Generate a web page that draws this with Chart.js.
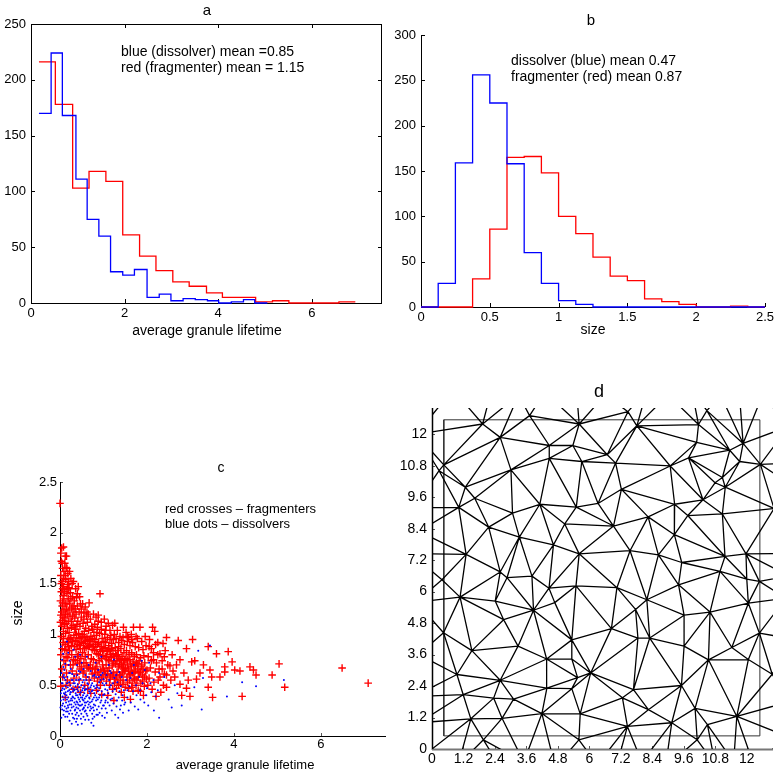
<!DOCTYPE html>
<html><head><meta charset="utf-8">
<script src="https://cdn.jsdelivr.net/npm/chart.js@4.4.1/dist/chart.umd.min.js"></script>
<style>
html,body{margin:0;padding:0;background:#fff;width:777px;height:774px;overflow:hidden}
canvas{position:absolute;left:0;top:0}
</style></head><body>
<canvas id="ca" width="777" height="774"></canvas>
<canvas id="cb" width="777" height="774"></canvas>
<canvas id="cc" width="777" height="774"></canvas>
<canvas id="cd" width="777" height="774"></canvas>
<script>
// ---------------- DATA ----------------
// panel a: histogram of average granule lifetime
const lifeTicks = [0, 2, 4, 6];
const countTicksA = [0, 50, 100, 150, 200, 250];
const dissLifeEdges = [0.17,0.43,0.67,0.96,1.20,1.45,1.70,1.96,2.21,2.48,2.74,2.99,3.25,3.51,3.77,4.01,4.28,4.54,4.78,5.05];
const dissLifeCounts = [170,224,168,111,75,60,28,25,30,5,8,2,4,3,2,0,1,3,0];
const fragLifeEdges = [0.17,0.52,0.89,1.24,1.60,1.96,2.32,2.67,3.03,3.38,3.75,4.09,4.45,4.80,5.16,5.51,5.87,6.22,6.58,6.93];
const fragLifeCounts = [216,178,103,118,109,61,42,29,19,15,9,5,5,1,2,0,0,0,1];

// panel b: histogram of size
const sizeTicks = [0, 0.5, 1, 1.5, 2, 2.5];
const countTicksB = [0, 50, 100, 150, 200, 250, 300];
const sizeEdges = [0,0.125,0.25,0.375,0.5,0.625,0.75,0.875,1,1.125,1.25,1.375,1.5,1.625,1.75,1.875,2,2.125,2.25,2.375,2.5];
const dissSizeCounts = [0,26,159,256,225,158,60,26,7,3,0,0,0,0,0,0,0,0,0,0];
const fragSizeCounts = [0,0,0,31,86,165,166,148,100,81,55,34,29,9,6,3,0,0,1,0];

// panel c: lifetime vs size scatter
const scatterLifeTicks = [0, 2, 4, 6];
const scatterSizeTicks = [0, 0.5, 1, 1.5, 2, 2.5];
const fragPoints = [
[0.00,2.29],[0.02,1.80],[0.04,1.85],[0.08,1.86],[0.03,1.72],[0.06,1.65],[0.02,1.58],[0.05,1.52],[0.08,1.47],[0.03,1.42],[0.07,1.38],[0.01,1.33],[0.05,1.28],[0.09,1.24],[0.02,1.19],[0.06,1.14],[0.04,1.08],[0.08,1.03],[0.03,0.98],[0.07,0.92],[0.05,0.86],[0.02,0.80],[0.09,0.74],[0.04,0.66],[0.06,0.58],[0.02,0.49],[0.08,1.55],[0.09,1.62],[0.01,1.12],[0.06,1.31],
[0.12,1.77],[0.15,1.77],[0.11,1.70],[0.14,1.66],[0.18,1.60],[0.13,1.54],[0.17,1.49],[0.11,1.44],[0.16,1.40],[0.19,1.35],[0.12,1.30],[0.15,1.25],[0.18,1.20],[0.11,1.16],[0.14,1.11],[0.17,1.06],[0.13,1.01],[0.19,0.96],[0.12,0.90],[0.16,0.84],[0.18,0.77],[0.13,0.70],[0.15,0.62],[0.12,0.38],[0.17,0.55],[0.19,1.45],[0.14,0.50],
[0.22,1.62],[0.25,1.55],[0.28,1.50],[0.31,1.52],[0.21,1.46],[0.24,1.41],[0.29,1.37],[0.33,1.33],[0.22,1.30],[0.27,1.26],[0.32,1.22],[0.23,1.18],[0.26,1.13],[0.30,1.09],[0.34,1.05],[0.21,1.02],[0.25,0.97],[0.29,0.93],[0.33,0.88],[0.22,0.84],[0.27,0.80],[0.31,0.75],[0.24,0.70],[0.28,0.64],[0.32,0.57],[0.23,0.52],[0.30,0.46],[0.26,1.07],[0.34,1.16],[0.21,1.24],
[0.36,1.45],[0.42,1.47],[0.45,1.37],[0.38,1.36],[0.47,1.30],[0.40,1.28],[0.44,1.22],[0.37,1.20],[0.49,1.17],[0.41,1.13],[0.46,1.08],[0.36,1.05],[0.43,1.01],[0.48,0.97],[0.39,0.93],[0.45,0.89],[0.37,0.85],[0.42,0.80],[0.48,0.76],[0.40,0.71],[0.46,0.66],[0.38,0.61],[0.44,0.55],[0.41,0.48],[0.47,0.43],[0.49,1.25],[0.39,1.10],
[0.52,1.30],[0.58,1.27],[0.63,1.12],[0.67,1.31],[0.55,1.21],[0.61,1.18],[0.70,1.15],[0.53,1.11],[0.59,1.06],[0.66,1.04],[0.73,1.08],[0.51,1.00],[0.57,0.97],[0.64,0.94],[0.71,0.98],[0.54,0.91],[0.60,0.87],[0.68,0.89],[0.74,0.85],[0.52,0.82],[0.58,0.78],[0.65,0.80],[0.72,0.76],[0.55,0.72],[0.62,0.69],[0.69,0.66],[0.53,0.62],[0.60,0.58],[0.67,0.55],[0.74,0.61],[0.57,0.50],[0.64,0.46],[0.71,0.42],[0.62,1.22],[0.56,0.86],
[0.77,1.20],[0.83,1.17],[0.92,1.40],[0.88,1.19],[0.80,1.10],[0.86,1.07],[0.95,1.12],[0.78,1.02],[0.84,0.99],[0.91,1.01],[0.97,0.96],[0.76,0.93],[0.82,0.90],[0.89,0.92],[0.96,0.88],[0.79,0.84],[0.85,0.81],[0.93,0.83],[0.99,0.79],[0.77,0.75],[0.83,0.72],[0.90,0.74],[0.98,0.70],[0.81,0.66],[0.87,0.63],[0.94,0.65],[0.79,0.57],[0.86,0.54],[0.93,0.50],[0.99,0.58],[0.84,0.45],[0.96,0.41],[0.88,1.13],
[1.02,1.15],[1.11,1.11],[1.06,1.08],[1.15,1.04],[1.21,1.09],[1.03,1.00],[1.09,0.97],[1.17,0.99],[1.23,0.95],[1.05,0.92],[1.12,0.89],[1.19,0.91],[1.01,0.86],[1.08,0.83],[1.15,0.85],[1.22,0.81],[1.04,0.78],[1.11,0.75],[1.18,0.77],[1.24,0.73],[1.06,0.70],[1.13,0.67],[1.20,0.69],[1.02,0.64],[1.09,0.61],[1.16,0.58],[1.23,0.62],[1.07,0.54],[1.14,0.50],[1.21,0.46],[1.10,0.40],[1.24,0.35],
[1.26,1.11],[1.32,1.04],[1.38,0.98],[1.46,1.07],[1.29,0.96],[1.35,0.92],[1.42,0.94],[1.48,0.90],[1.27,0.87],[1.33,0.84],[1.40,0.86],[1.47,0.82],[1.30,0.79],[1.36,0.76],[1.43,0.78],[1.49,0.74],[1.28,0.71],[1.34,0.68],[1.41,0.70],[1.46,0.66],[1.31,0.63],[1.37,0.60],[1.44,0.62],[1.27,0.56],[1.33,0.53],[1.39,0.55],[1.45,0.51],[1.30,0.47],[1.41,0.43],[1.48,0.38],
[1.52,1.02],[1.58,0.97],[1.64,1.00],[1.69,1.07],[1.55,0.93],[1.61,0.89],[1.67,0.92],[1.73,0.88],[1.53,0.84],[1.59,0.80],[1.65,0.82],[1.71,0.78],[1.56,0.75],[1.62,0.71],[1.68,0.73],[1.74,0.69],[1.51,0.67],[1.57,0.64],[1.63,0.61],[1.70,0.63],[1.54,0.58],[1.60,0.55],[1.66,0.52],[1.72,0.56],[1.58,0.47],[1.68,0.44],[1.62,0.36],
[1.84,1.07],[1.78,0.96],[1.88,0.93],[1.96,0.98],[1.81,0.87],[1.91,0.85],[1.98,0.89],[1.76,0.80],[1.85,0.77],[1.93,0.79],[1.79,0.71],[1.87,0.68],[1.95,0.72],[1.82,0.62],[1.90,0.60],[1.97,0.64],[1.77,0.55],[1.86,0.52],[1.94,0.49],[1.80,0.45],[1.92,0.40],[1.99,0.56],
[2.13,1.07],[2.18,1.03],[2.06,0.95],[2.25,0.92],[2.37,0.91],[2.45,0.97],[2.10,0.86],[2.30,0.81],[2.42,0.84],[2.03,0.78],[2.15,0.75],[2.22,0.72],[2.35,0.74],[2.48,0.70],[2.08,0.67],[2.19,0.63],[2.28,0.66],[2.40,0.61],[2.05,0.57],[2.16,0.53],[2.26,0.55],[2.38,0.50],[2.45,0.48],[2.12,0.46],[2.32,0.43],[2.21,0.39],[2.02,0.50],
[2.53,0.69],[2.60,0.64],[2.64,0.58],[2.72,0.94],[2.76,0.75],[2.76,0.51],[2.80,0.40],[2.91,0.86],[2.91,0.47],[2.99,0.39],[3.03,0.73],[3.05,0.95],[3.10,0.74],[3.14,0.56],[3.22,0.62],[3.41,0.88],[3.41,0.48],[3.45,0.65],[3.49,0.58],[3.51,0.38],[3.60,0.81],[3.68,0.58],[3.79,0.68],[3.79,0.63],[3.87,0.83],[3.96,0.73],[4.02,0.65],[4.14,0.64],[4.19,0.39],[4.37,0.68],[4.45,0.65],[4.51,0.60],[4.88,0.60],[5.04,0.71],[5.17,0.48],[6.49,0.67],[7.09,0.52],[2.58,0.80],[2.68,0.70],[2.85,0.62],[2.95,0.55],[3.30,0.70],[2.55,0.55],
[0.03,1.50],[0.06,1.45],[0.09,1.35],[0.04,1.22],[0.07,1.17],[0.10,1.10],[0.13,1.20],[0.16,1.30],[0.19,1.13],[0.12,1.58],[0.16,1.65],[0.08,0.96],[0.11,0.85],[0.14,0.78],[0.17,0.92],[0.20,0.88],[0.23,0.95],[0.26,0.89],[0.29,1.18],[0.32,0.99],[0.35,0.94],[0.38,1.00],[0.41,0.90],[0.44,0.96],[0.47,0.86],[0.50,0.92],[0.53,0.98],[0.56,1.03],[0.59,0.93],[0.62,0.98],[0.65,0.88],[0.68,0.95],[0.71,0.90],[0.74,0.96],[0.77,0.88],[0.80,0.95],[0.83,0.85],[0.86,0.90],[0.89,0.80],[0.92,0.88],[0.95,0.76],[0.98,0.84],[1.01,0.93],[1.04,0.87],[1.07,0.78],[1.10,0.84],[1.13,0.74],[1.16,0.80],[1.19,0.86],[1.22,0.71],[1.25,0.78],[1.28,0.84],[1.31,0.74],[1.34,0.80],[1.37,0.70],[1.40,0.75],[1.43,0.68],[1.46,0.72],[1.49,0.64],[1.52,0.76],[1.55,0.70],[1.58,0.66],[1.61,0.75],[1.64,0.68],[1.67,0.62],[1.70,0.70],[1.73,0.64],[1.76,0.72],[1.79,0.66],[1.82,0.74],[1.85,0.63],[1.88,0.70],[1.91,0.66],[1.94,0.58],
[0.30,0.70],[0.35,0.74],[0.40,0.78],[0.45,0.72],[0.50,0.68],[0.55,0.64],[0.60,0.72],[0.65,0.67],[0.70,0.70],[0.75,0.67],[0.80,0.62],[0.85,0.68],[0.90,0.60],[0.95,0.56],[1.00,0.66],[1.05,0.60],[1.10,0.64],[1.15,0.56],[1.20,0.60],[1.25,0.52],[1.30,0.58],[1.35,0.50],[1.40,0.60],[1.45,0.55],[1.50,0.48],[1.55,0.53],[1.60,0.60],[1.65,0.48],[1.70,0.57],[1.75,0.50],[1.80,0.58],[1.85,0.44],[1.90,0.54],
[0.25,1.35],[0.30,1.28],[0.35,1.25],[0.40,1.40],[0.20,1.52],[0.10,1.42],[0.05,1.70],[0.55,1.15],[0.65,1.20],[0.75,1.05],[0.85,1.02],[0.95,1.05],[1.05,1.04],[1.15,0.95],[1.25,1.00],[1.35,0.88],[1.45,0.97],[1.55,0.98],[1.65,0.95],[1.75,0.98],[2.05,0.88],[2.15,0.82],[2.25,0.80],[2.35,0.66],[2.45,0.60],[2.20,0.90],[2.30,0.58],[2.40,0.78],[2.10,0.74],[2.00,0.65]
];
const dissPoints = [
[0.02,0.88],[0.05,0.75],[0.08,0.68],[0.03,0.62],[0.10,0.57],[0.06,0.52],[0.13,0.49],[0.04,0.45],[0.09,0.42],[0.12,0.38],[0.02,0.35],[0.07,0.32],[0.11,0.29],[0.05,0.26],[0.14,0.24],[0.08,0.21],[0.03,0.18],[0.13,0.55],[0.10,0.46],[0.06,0.39],[0.14,0.33],[0.01,0.28],[0.09,0.60],[0.12,0.71],[0.07,0.81],
[0.16,0.93],[0.19,0.82],[0.22,0.74],[0.25,0.66],[0.28,0.61],[0.17,0.58],[0.21,0.53],[0.24,0.50],[0.27,0.47],[0.18,0.44],[0.23,0.41],[0.29,0.39],[0.16,0.36],[0.20,0.34],[0.26,0.31],[0.19,0.28],[0.24,0.25],[0.28,0.22],[0.17,0.19],[0.22,0.15],[0.27,0.12],[0.21,0.45],[0.26,0.37],[0.18,0.30],[0.29,0.55],[0.23,0.62],[0.20,0.70],
[0.31,0.85],[0.35,0.78],[0.39,0.70],[0.43,0.64],[0.33,0.59],[0.37,0.55],[0.41,0.51],[0.44,0.48],[0.32,0.46],[0.36,0.42],[0.40,0.40],[0.34,0.37],[0.38,0.34],[0.42,0.31],[0.31,0.29],[0.35,0.26],[0.39,0.23],[0.43,0.20],[0.33,0.17],[0.37,0.14],[0.41,0.11],[0.36,0.49],[0.42,0.44],[0.30,0.38],[0.44,0.36],[0.38,0.28],[0.34,0.52],[0.40,0.60],
[0.46,0.80],[0.50,0.72],[0.54,0.66],[0.58,0.60],[0.47,0.56],[0.52,0.53],[0.56,0.49],[0.59,0.46],[0.48,0.43],[0.53,0.40],[0.57,0.37],[0.46,0.34],[0.51,0.31],[0.55,0.28],[0.59,0.25],[0.49,0.22],[0.54,0.19],[0.58,0.16],[0.50,0.12],[0.56,0.42],[0.48,0.38],[0.53,0.47],[0.57,0.33],[0.52,0.26],[0.47,0.63],
[0.62,0.78],[0.66,0.70],[0.71,0.64],[0.76,0.59],[0.61,0.55],[0.65,0.51],[0.70,0.48],[0.75,0.45],[0.79,0.42],[0.63,0.40],[0.68,0.37],[0.73,0.34],[0.78,0.31],[0.64,0.28],[0.69,0.25],[0.74,0.22],[0.79,0.19],[0.66,0.16],[0.72,0.13],[0.77,0.10],[0.61,0.46],[0.67,0.44],[0.74,0.52],[0.70,0.29],[0.64,0.34],[0.78,0.38],
[0.82,0.72],[0.88,0.65],[0.94,0.60],[1.00,0.56],[1.06,0.52],[0.84,0.50],[0.90,0.47],[0.96,0.44],[1.02,0.41],[1.08,0.38],[0.81,0.40],[0.87,0.36],[0.93,0.33],[0.99,0.30],[1.05,0.27],[0.85,0.26],[0.91,0.23],[0.97,0.20],[1.03,0.18],[0.83,0.58],[0.98,0.52],[1.09,0.45],[0.89,0.29],[1.04,0.33],[0.95,0.78],
[1.12,0.70],[1.18,0.62],[1.25,0.57],[1.32,0.53],[1.40,0.49],[1.47,0.45],[1.14,0.48],[1.21,0.44],[1.28,0.41],[1.35,0.38],[1.43,0.35],[1.16,0.36],[1.23,0.32],[1.30,0.29],[1.38,0.26],[1.45,0.23],[1.19,0.25],[1.27,0.21],[1.34,0.18],[1.13,0.55],[1.36,0.63],[1.42,0.58],[1.24,0.75],[1.48,0.31],
[1.52,0.55],[1.60,0.49],[1.68,0.44],[1.76,0.40],[1.85,0.36],[1.94,0.33],[2.03,0.30],[1.55,0.38],[1.63,0.33],[1.72,0.29],[1.80,0.26],[1.58,0.25],[1.66,0.62],[1.82,0.58],[1.90,0.52],[2.00,0.47],[2.10,0.43],[2.20,0.39],[1.70,0.70],[1.95,0.65],[2.15,0.55],[2.28,0.62],[2.05,0.72],[2.25,0.45],[1.88,0.74],
[2.16,0.25],[2.28,0.18],[2.57,0.28],[2.64,0.50],[2.80,0.30],[3.09,0.48],[3.18,0.84],[3.26,0.26],[3.29,0.57],[3.45,0.89],[3.84,0.39],[4.19,0.53],[4.51,0.49],[5.15,0.55],[2.40,0.58],[2.50,0.36],[2.70,0.42],
[0.05,0.30],[0.08,0.36],[0.11,0.41],[0.15,0.27],[0.18,0.48],[0.21,0.22],[0.24,0.35],[0.27,0.28],[0.30,0.44],[0.33,0.33],[0.36,0.21],[0.39,0.46],[0.42,0.27],[0.45,0.41],[0.48,0.30],[0.51,0.45],[0.54,0.35],[0.57,0.24],[0.60,0.39],[0.63,0.52],[0.66,0.31],[0.69,0.42],[0.72,0.27],[0.75,0.36],[0.78,0.49],[0.81,0.30],[0.84,0.21],[0.87,0.44],[0.90,0.38],[0.93,0.55],[0.96,0.27],[0.99,0.40],[1.02,0.50],[1.05,0.35],[1.08,0.23],[1.11,0.42],[1.14,0.30],[1.17,0.50],[1.20,0.37],[1.26,0.46],[1.31,0.35],[1.37,0.44],[1.44,0.40],[1.50,0.33],
[0.04,0.52],[0.07,0.58],[0.10,0.65],[0.13,0.43],[0.16,0.52],[0.19,0.38],[0.22,0.31],[0.25,0.43],[0.28,0.35],[0.31,0.52],[0.34,0.25],[0.37,0.40],[0.40,0.33],[0.43,0.55],[0.46,0.25],[0.49,0.50],[0.52,0.36],[0.55,0.55],[0.58,0.30],[0.61,0.22],[0.64,0.58],[0.67,0.38],[0.70,0.55],[0.73,0.44],[0.76,0.28],[0.79,0.60],[0.83,0.35],[0.86,0.48],[0.89,0.58],[0.92,0.40],[0.95,0.35],[0.98,0.62],[1.01,0.30],[1.04,0.46],[1.07,0.60],[1.10,0.33],
[0.02,0.42],[0.06,0.47],[0.09,0.25],[0.12,0.19],[0.15,0.40],[0.18,0.24],[0.21,0.62],[0.24,0.43],[0.27,0.55],[0.30,0.18],[0.33,0.45],[0.36,0.31],[0.39,0.17],[0.42,0.38],[0.45,0.30],[0.48,0.17],[0.51,0.38],[0.54,0.27],[0.57,0.45],[0.60,0.33],[0.63,0.20],[0.66,0.47],[0.69,0.33],[0.72,0.50],[0.75,0.17],[0.78,0.25],[0.81,0.47],[0.84,0.38],[0.87,0.21],[0.90,0.53],[1.15,0.64],[1.22,0.52],[1.29,0.60],[1.40,0.30],[1.55,0.45],[1.62,0.57],[1.75,0.50],[1.84,0.45],[1.98,0.40],[2.08,0.52]
];

// panel d: triangulated granule centres
const meshTicks = [0, 1.2, 2.4, 3.6, 4.8, 6, 7.2, 8.4, 9.6, 10.8, 12];
const meshNodes = [
[1.93,12.39],[2.60,11.88],[3.72,12.71],[4.47,11.57],[5.37,11.57],[5.61,12.39],[5.71,10.96],[4.47,11.08],[3.01,10.64],[0.45,10.83],
[0.27,10.61],[1.27,9.98],[1.02,9.21],[1.63,9.56],[2.16,8.46],[3.07,8.99],[4.11,9.33],[5.06,8.58],[5.50,9.22],[6.33,9.36],
[3.33,8.08],[4.63,7.78],[5.61,7.44],[1.30,7.42],[6.68,11.22],[7.47,12.86],[7.00,10.90],[7.22,9.90],[9.08,10.79],[7.81,12.32],
[10.16,12.37],[10.09,11.69],[9.78,11.10],[11.86,11.65],[11.35,11.39],[11.07,10.35],[11.73,10.96],[12.52,10.85],[10.79,10.15],[11.18,9.98],
[11.07,8.96],[13.04,9.17],[10.33,9.50],[9.25,9.33],[8.24,8.85],[6.92,8.50],[9.24,8.17],[8.63,7.40],[7.55,7.56],[11.17,7.34],
[11.97,7.44],[9.52,7.11],[10.98,6.77],[12.48,6.39],[12.00,6.48],[9.40,6.26],[10.60,5.22],[12.06,5.56],[12.48,4.42],[9.61,5.10],
[8.19,5.69],[7.05,6.15],[6.84,4.59],[7.85,4.23],[8.30,4.23],[7.68,2.26],[7.26,1.95],[9.61,3.92],[9.51,2.42],[10.54,3.40],
[11.43,3.87],[12.06,3.41],[12.97,2.85],[10.50,0.93],[10.03,1.55],[11.62,1.24],[9.14,1.00],[10.11,0.35],[8.25,1.50],[7.45,0.86],
[6.05,2.90],[5.33,2.30],[5.55,2.72],[5.33,4.16],[5.33,3.43],[4.37,3.43],[4.38,2.32],[4.68,5.58],[3.87,5.29],[3.81,6.59],
[4.46,6.13],[5.49,6.22],[2.86,6.53],[2.60,6.75],[2.41,5.64],[2.73,4.93],[1.07,5.79],[0.38,6.45],[0.44,4.43],[1.52,3.75],
[3.28,3.92],[2.60,2.62],[0.95,2.84],[1.19,2.07],[2.35,1.94],[3.11,1.90],[2.67,1.17],[1.48,1.15],[4.19,1.35],[5.65,1.34],
[1.96,0.35],[5.60,0.35],[0.00,0.00],[7.76,5.32],[10.48,12.90],[9.75,8.90],
[0.8,13.7],[2.3,13.8],[3.3,13.5],[4.3,13.6],[5.5,13.8],[6.6,13.5],[8.2,13.7],[9.0,13.5],[9.9,13.7],[11.0,13.5],[11.7,13.8],[12.6,13.5],
[1.0,-0.6],[2.6,-0.7],[3.5,-0.5],[4.7,-0.7],[6.3,-0.6],[7.0,-0.8],[8.0,-0.5],[8.9,-0.7],[10.8,-0.6],[11.5,-0.5],[12.3,-0.7],
[-0.6,12.0],[-0.7,9.2],[-0.5,8.3],[-0.8,7.45],[-0.6,5.6],[-0.5,3.6],[-0.7,2.0],[-0.5,1.0],
[13.6,12.3],[13.7,10.9],[13.5,10.2],[13.9,7.45],[13.6,6.6],[13.5,5.75],[13.7,4.2],[13.6,1.8],[13.5,0.5],
[-1.5,-1.5],[14.5,-1.5],[14.5,14.5],[-1.5,14.5]
];
const meshBox = [[0.45,0.5],[12.5,0.5],[12.5,12.55],[0.45,12.55],[0.45,0.5]];

// ---------------- HELPERS ----------------
const FONT = '"Liberation Sans", Arial, Helvetica, sans-serif';
const W = 777, H = 774, AXH = 30;

function stairs(edges, counts) {
  const pts = counts.map((c, i) => ({x: edges[i], y: c}));
  pts.push({x: edges[counts.length], y: counts[counts.length - 1]});
  return pts;
}
function axis(pos, min, max, ticks, size, pad, fit) {
  return {
    type: 'linear', position: pos, min: min, max: max,
    afterBuildTicks: s => { s.ticks = ticks.map(v => ({value: v})); },
    afterFit: s => { if (pos === 'left') s.width = fit; else s.height = fit; },
    grid: {display: false, drawTicks: false},
    border: {display: false},
    ticks: {color: '#000', font: {family: FONT, size: size}, padding: pad, autoSkip: false, maxRotation: 0,
            callback: v => String(v)}
  };
}
function framePlugin(o) {
  return {
    id: 'frame',
    beforeDatasetsDraw(chart) {
      const ctx = chart.ctx, a = chart.chartArea, x = chart.scales.x, y = chart.scales.y;
      ctx.save();
      ctx.strokeStyle = o.tickColor; ctx.lineWidth = 1;
      ctx.beginPath();
      x.ticks.forEach(t => {
        const px = Math.round(x.getPixelForValue(t.value)) + 0.5;
        ctx.moveTo(px, a.bottom); ctx.lineTo(px, a.bottom - o.len);
        if (o.box) { ctx.moveTo(px, a.top); ctx.lineTo(px, a.top + o.len); }
      });
      y.ticks.forEach(t => {
        const py = Math.round(y.getPixelForValue(t.value)) + 0.5;
        ctx.moveTo(a.left, py); ctx.lineTo(a.left + o.len, py);
        if (o.box) { ctx.moveTo(a.right, py); ctx.lineTo(a.right - o.len, py); }
      });
      ctx.stroke();
      ctx.strokeStyle = o.leftColor; ctx.lineWidth = o.leftWidth;
      ctx.beginPath(); ctx.moveTo(a.left + 0.5, a.top); ctx.lineTo(a.left + 0.5, a.bottom + 1); ctx.stroke();
      ctx.strokeStyle = o.bottomColor; ctx.lineWidth = o.bottomWidth;
      ctx.beginPath(); ctx.moveTo(a.left, a.bottom + 0.5); ctx.lineTo(a.right, a.bottom + 0.5); ctx.stroke();
      if (o.box) {
        ctx.strokeStyle = o.leftColor; ctx.lineWidth = 1;
        ctx.beginPath(); ctx.moveTo(a.left, a.top + 0.5); ctx.lineTo(a.right - 0.5, a.top + 0.5);
        ctx.lineTo(a.right - 0.5, a.bottom + 1); ctx.stroke();
      }
      ctx.restore();
    }
  };
}
function textPlugin(items) {
  return {
    id: 'texts',
    afterDraw(chart) {
      const ctx = chart.ctx;
      items.forEach(it => {
        ctx.save();
        ctx.font = it.size + 'px ' + FONT;
        ctx.fillStyle = '#000';
        ctx.textAlign = it.align || 'left';
        ctx.textBaseline = 'middle';
        ctx.translate(it.x, it.y);
        if (it.rot) ctx.rotate(it.rot);
        ctx.fillText(it.text, 0, 0);
        ctx.restore();
      });
    }
  };
}
function makeChart(id, area, datasets, xAx, yAx, frame, texts) {
  return new Chart(document.getElementById(id), {
    type: 'scatter',
    data: {datasets: datasets},
    options: {
      responsive: false, animation: false, devicePixelRatio: 1, events: [],
      layout: {padding: {left: area.L - area.axw, top: area.T, right: W - area.R, bottom: H - area.B - AXH}},
      scales: {x: xAx, y: yAx},
      plugins: {legend: {display: false}, tooltip: {enabled: false}}
    },
    plugins: [framePlugin(frame), textPlugin(texts)]
  });
}
const lineDs = (pts, color) => ({data: pts, showLine: true, stepped: 'before', borderColor: color, borderWidth: 1.3,
  pointRadius: 0, fill: false, clip: false});

// ---------------- PANEL a ----------------
makeChart('ca', {L: 31, R: 382, T: 24, B: 303, axw: 30},
  [lineDs(stairs(dissLifeEdges, dissLifeCounts), '#0000ff'), lineDs(stairs(fragLifeEdges, fragLifeCounts), '#ff0000')],
  axis('bottom', 0, 7.5, lifeTicks, 13, 3, AXH), axis('left', 0, 250, countTicksA, 13, 5, 30),
  {box: true, len: 4, tickColor: '#000', leftColor: '#000', leftWidth: 1, bottomColor: '#000', bottomWidth: 1},
  [{text: 'a', x: 207, y: 11, size: 15, align: 'center'},
   {text: 'blue (dissolver) mean =0.85', x: 121, y: 52, size: 14},
   {text: 'red (fragmenter) mean = 1.15', x: 121, y: 68, size: 14},
   {text: 'average granule lifetime', x: 207, y: 331, size: 14, align: 'center'}]);

// ---------------- PANEL b ----------------
makeChart('cb', {L: 421, R: 766, T: 35, B: 307, axw: 40},
  [lineDs(stairs(sizeEdges, dissSizeCounts), '#0000ff'), lineDs(stairs(sizeEdges, fragSizeCounts), '#ff0000')],
  axis('bottom', 0, 2.5, sizeTicks, 13, 3, AXH), axis('left', 0, 300, countTicksB, 13, 5, 40),
  {box: false, len: 4, tickColor: '#000', leftColor: '#000', leftWidth: 1, bottomColor: '#000', bottomWidth: 1},
  [{text: 'b', x: 591, y: 21, size: 15, align: 'center'},
   {text: 'dissolver (blue) mean 0.47', x: 511, y: 61, size: 14},
   {text: 'fragmenter (red) mean 0.87', x: 511, y: 77, size: 14},
   {text: 'size', x: 593, y: 330, size: 14, align: 'center'}]);

// ---------------- PANEL c ----------------
makeChart('cc', {L: 60, R: 386, T: 482, B: 736, axw: 40},
  [{data: dissPoints.map(p => ({x: p[0], y: p[1]})), pointStyle: 'circle', pointRadius: 1.0, borderWidth: 0,
    backgroundColor: '#0000ff', borderColor: '#0000ff', clip: false},
   {data: fragPoints.map(p => ({x: p[0], y: p[1]})), pointStyle: 'cross', pointRadius: 3.8, borderWidth: 1.4,
    borderColor: '#ff0000', backgroundColor: '#ff0000', clip: false}],
  axis('bottom', 0, 7.5, scatterLifeTicks, 13, 1, AXH), axis('left', 0, 2.5, scatterSizeTicks, 13, 3, 40),
  {box: false, len: 3, tickColor: '#555', leftColor: '#000', leftWidth: 1, bottomColor: '#000', bottomWidth: 1},
  [{text: 'c', x: 221, y: 468, size: 14, align: 'center'},
   {text: 'red crosses \u2013 fragmenters', x: 165, y: 509, size: 13},
   {text: 'blue dots \u2013 dissolvers', x: 165, y: 524, size: 13},
   {text: 'average granule lifetime', x: 245, y: 765, size: 13, align: 'center'},
   {text: 'size', x: 18, y: 613, size: 14, align: 'center', rot: -Math.PI / 2}]);

// ---------------- PANEL d ----------------
function delaunayEdges(pts) {
  const n = pts.length;
  const P = pts.slice();
  P.push([-1000, -1000], [1000, -1000], [0, 1000]);
  let tris = [[n, n + 1, n + 2]];
  const circ = t => {
    const [ax, ay] = P[t[0]], [bx, by] = P[t[1]], [cx, cy] = P[t[2]];
    const d = 2 * (ax * (by - cy) + bx * (cy - ay) + cx * (ay - by));
    const ux = ((ax*ax + ay*ay) * (by - cy) + (bx*bx + by*by) * (cy - ay) + (cx*cx + cy*cy) * (ay - by)) / d;
    const uy = ((ax*ax + ay*ay) * (cx - bx) + (bx*bx + by*by) * (ax - cx) + (cx*cx + cy*cy) * (bx - ax)) / d;
    return [ux, uy, (ax - ux) * (ax - ux) + (ay - uy) * (ay - uy)];
  };
  let circs = tris.map(circ);
  for (let i = 0; i < n; i++) {
    const [px, py] = P[i];
    const keep = [], keepC = [], edges = new Map();
    tris.forEach((t, k) => {
      const c = circs[k];
      if ((px - c[0]) * (px - c[0]) + (py - c[1]) * (py - c[1]) < c[2]) {
        [[t[0], t[1]], [t[1], t[2]], [t[2], t[0]]].forEach(e => {
          const key = Math.min(e[0], e[1]) + '_' + Math.max(e[0], e[1]);
          edges.set(key, edges.has(key) ? null : e);
        });
      } else { keep.push(t); keepC.push(c); }
    });
    edges.forEach(e => { if (e) { const t = [e[0], e[1], i]; keep.push(t); keepC.push(circ(t)); } });
    tris = keep; circs = keepC;
  }
  const out = new Map();
  tris.forEach(t => {
    if (t[0] >= n || t[1] >= n || t[2] >= n) return;
    [[t[0], t[1]], [t[1], t[2]], [t[2], t[0]]].forEach(e => {
      out.set(Math.min(e[0], e[1]) + '_' + Math.max(e[0], e[1]), e);
    });
  });
  return Array.from(out.values());
}
const meshSegments = [];
delaunayEdges(meshNodes).forEach(e => {
  meshSegments.push({x: meshNodes[e[0]][0], y: meshNodes[e[0]][1]},
                    {x: meshNodes[e[1]][0], y: meshNodes[e[1]][1]},
                    {x: null, y: null});
});
makeChart('cd', {L: 432, R: 773, T: 408, B: 749, axw: 60},
  [{data: meshSegments, showLine: true, spanGaps: false, borderColor: '#000', borderWidth: 1.3, pointRadius: 0, tension: 0},
   {data: meshBox.map(p => ({x: p[0], y: p[1]})), showLine: true, borderColor: '#333', borderWidth: 1, pointRadius: 0}],
  axis('bottom', 0, 13, meshTicks, 14, 2, AXH), axis('left', 0, 13, meshTicks, 14, 5, 60),
  {box: false, len: 3, tickColor: '#555', leftColor: '#000', leftWidth: 1.5, bottomColor: '#777', bottomWidth: 2},
  [{text: 'd', x: 599, y: 392, size: 18, align: 'center'}]);
</script>
</body></html>
